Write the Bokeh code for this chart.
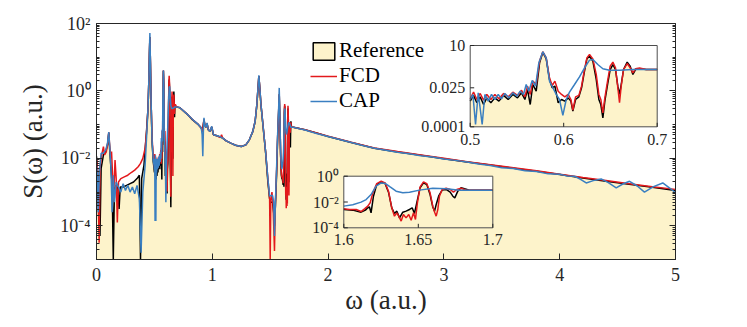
import numpy as np
from bokeh.plotting import figure
from bokeh.models import (Range1d, LogScale, LogAxis, FixedTicker, CustomJSTickFormatter,
                          Legend, LegendItem)
from bokeh.core.properties import value
from bokeh.embed import file_html
from bokeh.resources import INLINE

# ---------------- data (given as log10 S) ----------------
x_ref = [0.0, 0.01, 0.02, 0.03, 0.04, 0.06, 0.08, 0.095, 0.106, 0.115, 0.125, 0.135, 0.145, 0.155,
         0.17, 0.185, 0.195, 0.205, 0.23, 0.26, 0.29, 0.32, 0.35, 0.37, 0.38, 0.39, 0.41, 0.43,
         0.445, 0.452, 0.457, 0.461, 0.466, 0.472, 0.48, 0.49, 0.497,
         0.5, 0.5036, 0.5071, 0.5107, 0.5143, 0.5178, 0.5221, 0.5264, 0.5307, 0.5357,
         0.5406, 0.5456, 0.5506, 0.5549, 0.5585, 0.5613, 0.5642, 0.567, 0.5706, 0.5742,
         0.5777, 0.5813, 0.5848, 0.5877, 0.5906, 0.5941, 0.5977, 0.6012, 0.6048, 0.6077,
         0.6098, 0.6127, 0.6162, 0.6191, 0.6219, 0.6248, 0.6276, 0.6312, 0.6348, 0.6376,
         0.6397, 0.6419, 0.644, 0.6469, 0.6497, 0.6526, 0.6554, 0.6579, 0.6597, 0.6615,
         0.664, 0.6679, 0.6711, 0.674, 0.6768, 0.6811, 0.6882, 0.7,
         0.72, 0.78, 0.83, 0.88, 0.905, 0.915, 0.928, 0.935, 0.945, 0.955, 0.965, 0.98, 0.995,
         1.01, 1.04, 1.07, 1.09, 1.12, 1.16, 1.2, 1.25, 1.29, 1.32, 1.35, 1.37, 1.385, 1.395,
         1.402, 1.41, 1.42, 1.44, 1.46, 1.48, 1.495, 1.505, 1.52, 1.53, 1.537, 1.545, 1.555,
         1.565, 1.573, 1.578, 1.584, 1.59, 1.596,
         1.6, 1.606, 1.6116, 1.6145, 1.6161, 1.6172, 1.6183, 1.6199, 1.6221, 1.6251,
         1.6277, 1.63, 1.6322, 1.634, 1.6356, 1.6374, 1.6396, 1.6418, 1.6441, 1.6459,
         1.6474, 1.649, 1.6512, 1.6535, 1.6557, 1.6579, 1.6597, 1.6609, 1.662, 1.6638,
         1.666, 1.6687, 1.6714, 1.6732, 1.6745, 1.6765, 1.6787, 1.681, 1.6843, 1.7,
         1.8, 1.9, 2.0, 2.2, 2.4, 2.6, 2.8, 3.0, 3.2, 3.4, 3.6, 3.8, 4.0, 4.2, 4.4, 4.6, 4.8, 5.0]
ref_log10 = [-1.94, -2.4, -3.8, -4.3, -2.3, -1.9, -1.8, -1.6, -1.25, -1.8, -2.3, -2.8, -5.0, -2.9,
             -2.8, -2.9, -3.5, -2.85, -2.85, -2.8, -2.75, -2.7, -2.6, -2.5, -5.0, -2.6, -2.2, -1.3,
             -0.5, 0.3, 1.1, 1.6, 0.8, -0.4, -1.5, -2.1, -2.3,
             -2.42, -2.07, -2.52, -2.16, -2.63, -2.22, -2.52, -2.22, -2.42, -2.07,
             -2.32, -2.01, -2.22, -1.91, -2.32, -1.7, -2.63, -1.4, -1.81, -0.07,
             0.59, 0.18, -1.09, -1.6, -1.5, -2.52, -2.32, -2.42, -2.22, -2.42,
             -3.04, -2.32, -2.16, -1.6, -0.68, 0.18, 0.34, 0.04, -1.09, -2.32,
             -2.63, -3.45, -2.42, -1.4, -0.48, -0.17, -0.48, -1.5, -2.01, -1.4,
             -0.48, -0.02, -0.27, -0.78, -0.48, -0.43, -0.48, -0.48,
             -0.5, -0.68, -0.86, -1.0, -1.1, -1.2, -0.85, -1.0, -1.08, -0.97, -1.15, -1.2, -1.07,
             -1.3, -1.33, -1.37, -1.4, -1.48, -1.55, -1.61, -1.65, -1.6, -1.45, -1.2, -0.9, -0.4, 0.1,
             0.44, 0.1, -0.4, -1.1, -1.8, -2.7, -3.2, -3.3, -3.3, -3.6, -4.0, -3.4, -2.5,
             -1.3, -0.6, -0.1, -0.9, -1.9, -2.5,
             -2.58, -2.63, -2.79, -2.63, -2.45, -2.37, -2.84, -1.55, -0.65, -0.44,
             -0.57, -1.24, -2.45, -2.89, -2.71, -3.23, -2.79, -2.71, -2.58, -2.45,
             -2.89, -2.06, -0.9, -0.52, -0.65, -1.42, -2.37, -2.71, -2.19, -1.5,
             -1.08, -1.03, -1.24, -1.55, -1.68, -1.16, -0.9, -0.98, -1.08, -1.08,
             -1.15, -1.25, -1.35, -1.53, -1.7, -1.81, -1.91, -2.01, -2.11, -2.2, -2.29, -2.38,
             -2.48, -2.58, -2.68, -2.77, -2.86, -2.95]

x_fcd = [0.0, 0.008, 0.015, 0.023, 0.03, 0.045, 0.06, 0.07, 0.085, 0.095, 0.106, 0.115, 0.125,
         0.13, 0.14, 0.15, 0.16, 0.17, 0.18, 0.19, 0.21, 0.24, 0.27, 0.30, 0.33, 0.36, 0.38, 0.40,
         0.42, 0.435, 0.445, 0.452, 0.457, 0.461, 0.466, 0.472, 0.48, 0.49, 0.497,
         0.5, 0.5036, 0.5071, 0.5107, 0.5143, 0.5178, 0.5221, 0.5264, 0.5307, 0.5357,
         0.5406, 0.5456, 0.5506, 0.5549, 0.5585, 0.5613, 0.5642, 0.567, 0.5706, 0.5742,
         0.5777, 0.5813, 0.5848, 0.5877, 0.5906, 0.5941, 0.5977, 0.6012, 0.6048, 0.6077,
         0.6098, 0.6127, 0.6162, 0.6191, 0.6219, 0.6248, 0.6276, 0.6312, 0.6348, 0.6376,
         0.6397, 0.6419, 0.644, 0.6469, 0.6497, 0.6526, 0.6554, 0.6579, 0.6597, 0.6615,
         0.664, 0.6679, 0.6711, 0.674, 0.6768, 0.6811, 0.6882, 0.7,
         0.72, 0.78, 0.83, 0.88, 0.905, 0.915, 0.928, 0.935, 0.945, 0.955, 0.965, 0.98, 0.995,
         1.01, 1.04, 1.07, 1.08, 1.09, 1.12, 1.16, 1.2, 1.25, 1.29, 1.32, 1.35, 1.37, 1.385,
         1.395, 1.402, 1.41, 1.42, 1.44, 1.46, 1.48, 1.495, 1.50, 1.505, 1.515, 1.525, 1.537,
         1.545, 1.555, 1.565, 1.573, 1.578, 1.584, 1.59, 1.596,
         1.6, 1.6038, 1.6083, 1.6116, 1.6139, 1.6161, 1.6177, 1.6195, 1.6221, 1.6251,
         1.6277, 1.63, 1.6322, 1.634, 1.6356, 1.6369, 1.6385, 1.64, 1.6418, 1.6436,
         1.6452, 1.6468, 1.6481, 1.6494, 1.6512, 1.6535, 1.6557, 1.6579, 1.6597, 1.6611,
         1.662, 1.6631, 1.6642, 1.666, 1.6687, 1.6714, 1.6736, 1.6758, 1.6787, 1.6821,
         1.691, 1.7,
         1.8, 1.9, 2.0, 2.2, 2.4, 2.6, 2.8, 3.0, 3.2, 3.4, 3.6, 3.8, 4.0, 4.2, 4.4, 4.6, 4.8, 5.0]
fcd_log10 = [-2.0, -2.3, -3.2, -4.5, -2.3, -1.9, -1.65, -1.9, -1.8, -1.6, -1.22, -1.7, -2.0,
             -1.8, -2.6, -3.0, -2.05, -2.6, -3.9, -2.7, -2.6, -2.55, -2.5, -2.42, -2.35, -2.25,
             -2.15, -2.0, -1.7, -1.1, -0.5, 0.3, 1.1, 1.6, 0.8, -0.4, -1.4, -1.95, -2.1,
             -2.28, -1.87, -2.32, -1.95, -2.36, -2.01, -2.32, -2.01, -2.28, -1.95,
             -2.16, -1.87, -2.07, -1.75, -2.16, -1.5, -2.01, -1.19, -1.4, 0.04,
             0.61, 0.24, -0.99, -1.46, -1.19, -1.81, -2.01, -2.16, -2.01, -2.32,
             -2.98, -2.16, -2.07, -1.5, -0.58, 0.24, 0.45, 0.18, -0.78, -2.01,
             -2.32, -3.14, -2.22, -1.19, -0.27, -0.02, -0.37, -1.6, -2.52, -1.5,
             -0.48, -0.11, -0.37, -0.68, -0.43, -0.39, -0.48, -0.48,
             -0.5, -0.68, -0.85, -1.0, -1.1, -1.2, -0.85, -1.0, -1.08, -0.97, -1.15, -1.2, -1.07,
             -1.3, -1.33, -1.38, -1.3, -1.4, -1.48, -1.55, -1.61, -1.65, -1.6, -1.45, -1.2, -0.9,
             -0.4, 0.1, 0.44, 0.1, -0.4, -1.1, -1.8, -2.6, -3.2, -5.0, -3.3, -3.0, -3.4, -4.75,
             -3.3, -2.4, -1.3, -0.6, -0.1, -0.9, -1.9, -2.4,
             -2.53, -2.58, -2.58, -2.74, -2.53, -2.32, -2.06, -1.29, -0.57, -0.39,
             -0.52, -1.16, -2.45, -3.10, -2.84, -3.10, -3.48, -2.97, -3.23, -2.97,
             -3.41, -2.84, -3.35, -2.06, -0.83, -0.44, -0.57, -1.29, -2.32, -2.84,
             -3.10, -2.58, -1.55, -1.03, -0.93, -1.03, -1.24, -1.03, -0.93, -1.08,
             -1.08, -1.08,
             -1.15, -1.25, -1.34, -1.52, -1.69, -1.8, -1.9, -2.0, -2.1, -2.19, -2.28, -2.37,
             -2.47, -2.57, -2.66, -2.75, -2.84, -2.92]

x_cap = [0.0, 0.008, 0.015, 0.025, 0.04, 0.06, 0.08, 0.095, 0.106, 0.115, 0.125, 0.135, 0.145,
         0.155, 0.17, 0.19, 0.21, 0.23, 0.25, 0.27, 0.29, 0.31, 0.33, 0.35, 0.37, 0.385, 0.40,
         0.42, 0.435, 0.445, 0.452, 0.457, 0.461, 0.466, 0.472, 0.48, 0.49, 0.497,
         0.5, 0.5029, 0.5057, 0.5086, 0.5128, 0.5157, 0.5193, 0.5228, 0.5264, 0.53,
         0.5335, 0.5371, 0.5414, 0.5456, 0.5499, 0.5535, 0.557, 0.5599, 0.5627, 0.5663,
         0.5699, 0.5734, 0.5777, 0.5813, 0.5848, 0.5884, 0.592, 0.5955, 0.5991, 0.6027,
         0.6062, 0.6116, 0.6169, 0.6223, 0.6276, 0.6312, 0.6365, 0.6419, 0.649, 0.6597,
         0.674, 0.7,
         0.72, 0.78, 0.83, 0.88, 0.905, 0.912, 0.918, 0.923, 0.928, 0.935, 0.945, 0.955, 0.965,
         0.98, 0.995, 1.01, 1.04, 1.07, 1.09, 1.12, 1.16, 1.2, 1.25, 1.29, 1.32, 1.35, 1.37,
         1.385, 1.395, 1.402, 1.41, 1.42, 1.44, 1.46, 1.48, 1.495, 1.51, 1.52, 1.53, 1.537,
         1.545, 1.555, 1.565, 1.573, 1.578, 1.584, 1.59, 1.596,
         1.6, 1.606, 1.6116, 1.615, 1.6183, 1.6217, 1.6251, 1.628, 1.6311, 1.6351,
         1.6396, 1.6441, 1.6508, 1.6597, 1.6687, 1.6776, 1.6888, 1.7,
         1.8, 1.9, 2.0, 2.1, 2.2, 2.3, 2.4, 2.5, 2.6, 2.7, 2.8, 2.9, 3.0, 3.1, 3.2, 3.3, 3.4,
         3.5, 3.6, 3.7, 3.8, 3.9, 4.0, 4.06, 4.128, 4.18, 4.229, 4.29, 4.358, 4.42, 4.488,
         4.545, 4.603, 4.67, 4.732, 4.81, 4.89, 4.95, 5.0]
cap_log10 = [-2.2, -2.5, -3.6, -2.4, -1.85, -1.85, -1.75, -1.55, -1.22, -1.7, -2.3, -3.6, -2.5,
             -3.3, -2.7, -2.85, -3.0, -2.75, -2.95, -2.8, -3.0, -2.85, -3.05, -2.8, -3.2, -4.8,
             -3.0, -2.2, -1.2, -0.5, 0.3, 1.2, 1.72, 0.8, -0.4, -1.5, -2.05, -2.2,
             -2.32, -2.01, -3.86, -1.91, -3.86, -2.01, -2.42, -2.01, -2.32, -2.01,
             -2.28, -1.95, -2.22, -1.91, -2.11, -1.81, -2.01, -1.4, -1.81, -1.15,
             -1.5, -0.07, 0.61, 0.24, -1.19, -1.6, -2.01, -2.32, -3.3, -2.32,
             -1.87, -1.4, -0.93, -0.37, 0.1, 0.14, -0.17, -0.43, -0.52, -0.52,
             -0.48, -0.48,
             -0.5, -0.68, -0.85, -1.0, -1.1, -1.3, -1.94, -1.2, -0.8, -1.0, -1.08, -0.95, -1.15,
             -1.2, -1.05, -1.3, -1.33, -1.36, -1.4, -1.48, -1.55, -1.61, -1.65, -1.6, -1.45,
             -1.2, -0.9, -0.4, 0.1, 0.46, 0.1, -0.4, -1.1, -1.8, -2.6, -3.12, -3.1, -3.1, -3.3,
             -4.3, -3.3, -2.3, -1.2, -0.5, 0.09, -0.8, -1.8, -2.2,
             -2.32, -2.22, -2.01, -1.81, -1.42, -0.77, -0.52, -0.57, -0.83, -1.16,
             -1.29, -1.24, -1.08, -0.93, -0.98, -1.08, -1.08, -1.08,
             -1.16, -1.26, -1.35, -1.44, -1.53, -1.62, -1.7, -1.76, -1.82, -1.86, -1.92, -1.96,
             -2.02, -2.06, -2.11, -2.17, -2.21, -2.28, -2.3, -2.37, -2.39, -2.46, -2.47, -2.52,
             -2.53, -2.62, -2.73, -2.66, -2.61, -2.72, -2.875, -2.76, -2.68, -2.82, -3.0, -2.84,
             -2.73, -2.88, -3.02]

x_ticks = [0, 1, 2, 3, 4, 5]
y_ticks = [1e-4, 1e-2, 1e0, 1e2]
inset1_xlim, inset1_ylim = (0.5, 0.7), (1e-4, 10.0)
inset1_xticks, inset1_xlabels = [0.5, 0.6, 0.7], ["0.5", "0.6", "0.7"]
inset1_yticks, inset1_ylabels = [1e-4, 0.025, 10.0], ["0.0001", "0.025", "10"]
inset2_xlim, inset2_ylim = (1.6, 1.7), (1e-4, 1.0)
inset2_xticks, inset2_xlabels = [1.6, 1.65, 1.7], ["1.6", "1.65", "1.7"]
inset2_yticks, inset2_ylabels = [1e-4, 1e-2, 1.0], ["10\u207b\u2074", "10\u207b\u00b2", "10\u2070"]

xr_ = np.array(x_ref); sr_ = 10.0 ** np.array(ref_log10)
xf_ = np.array(x_fcd); sf_ = 10.0 ** np.array(fcd_log10)
xc_ = np.array(x_cap); sc_ = 10.0 ** np.array(cap_log10)

# ---------------- style ----------------
FONT = "Liberation Serif"
TXT = "#262626"
YELLOW = "#fdf3cb"
RED = "#e3191c"
BLUE = "#3a7fc1"
LW = 1.5

W, H = 737, 321
FL, FR, FT, FB = 96, 62, 23, 62
FW, FH = W - FL - FR, H - FT - FB

p = figure(width=W, height=H, x_range=Range1d(0, 5), y_range=Range1d(1e-5, 1e2),
           y_axis_type="log", output_backend="svg", toolbar_location=None,
           min_border_left=FL, min_border_right=FR, min_border_top=FT, min_border_bottom=FB)
p.xgrid.grid_line_color = None
p.ygrid.grid_line_color = None
p.outline_line_color = TXT
p.outline_line_width = 1
p.background_fill_color = "white"
p.border_fill_color = "white"

minor = sorted([k * 10.0 ** e for e in range(-5, 2) for k in range(2, 10)] + [1e-5, 1e-3, 1e-1, 1e1])
sup_js = """
const e = Math.round(Math.log10(tick));
const m = {"-":"\u207b","0":"\u2070","1":"\u00b9","2":"\u00b2","3":"\u00b3","4":"\u2074","5":"\u2075","6":"\u2076","7":"\u2077","8":"\u2078","9":"\u2079"};
return "10" + String(e).split("").map(c => m[c]).join("");
"""
yax = p.yaxis[0]
yax.ticker = FixedTicker(ticks=y_ticks, minor_ticks=minor)
yax.formatter = CustomJSTickFormatter(code=sup_js)
yax.axis_label = "S(\u03c9) (a.u.)"
for ax in (yax, p.xaxis[0]):
    ax.axis_label_text_font = FONT
    ax.axis_label_text_font_size = "27px"
    ax.axis_label_text_font_style = "normal"
    ax.axis_label_text_color = TXT
    ax.major_label_text_font = FONT
    ax.major_label_text_font_size = "18px"
    ax.major_label_text_color = TXT
    ax.axis_line_color = TXT
    ax.major_tick_line_color = TXT
    ax.minor_tick_line_color = TXT
    ax.major_tick_in = 6
    ax.major_tick_out = 0
    ax.minor_tick_in = 3
    ax.minor_tick_out = 0
yax.major_label_standoff = 6
yax.axis_label_standoff = 9
xax = p.xaxis[0]
xax.ticker = FixedTicker(ticks=x_ticks)
xax.minor_tick_line_color = None
xax.axis_label = "\u03c9 (a.u.)"
xax.major_label_standoff = 8
xax.axis_label_standoff = 1

rax = LogAxis(ticker=FixedTicker(ticks=y_ticks, minor_ticks=minor),
              formatter=CustomJSTickFormatter(code="return '';"),
              major_label_standoff=0,
              major_tick_in=6, major_tick_out=0, minor_tick_in=3, minor_tick_out=0,
              axis_line_color=TXT, major_tick_line_color=TXT, minor_tick_line_color=TXT)
p.add_layout(rax, "right")

# ---------------- main curves ----------------
p.varea(x=xr_, y1=1e-12, y2=sr_, fill_color=YELLOW)
p.line(xr_, sr_, line_color="black", line_width=LW)
red_r = p.line(xf_, sf_, line_color=RED, line_width=LW)
blue_r = p.line(xc_, sc_, line_color=BLUE, line_width=LW)
# legend swatch only (no drawable data)
leg_box = p.quad(left=[np.nan], right=[np.nan], top=[np.nan], bottom=[np.nan],
                 fill_color=YELLOW, line_color="black", line_width=1.5)

# ---------------- insets (drawn in extra ranges mapped to a sub-box of the frame) ----------------
ex_x, ex_y, ex_ys = {}, {}, {}


def inset(name, box, xlim, ylim, xticks, xlabels, yticks, ylabels, xoff):
    l, t, r, b = box
    sx = (xlim[1] - xlim[0]) / (r - l)
    ly0, ly1 = np.log10(ylim[0]), np.log10(ylim[1])
    sy = (ly1 - ly0) / (b - t)
    ex_x[name] = Range1d(xlim[0] - l * sx, xlim[1] + (FW - r) * sx)
    ex_y[name] = Range1d(10 ** (ly0 - (FH - b) * sy), 10 ** (ly1 + t * sy))
    ex_ys[name] = LogScale()
    kw = dict(x_range_name=name, y_range_name=name)
    p.quad(left=[xlim[0]], right=[xlim[1]], bottom=[ylim[0]], top=[ylim[1]],
           fill_color="white", line_color=None, **kw)
    m = (xr_ >= xlim[0]) & (xr_ <= xlim[1])
    p.varea(x=xr_[m], y1=ylim[0], y2=sr_[m], fill_color=YELLOW, **kw)
    p.line(xr_[m], sr_[m], line_color="black", line_width=LW, **kw)
    m = (xf_ >= xlim[0]) & (xf_ <= xlim[1])
    p.line(xf_[m], sf_[m], line_color=RED, line_width=LW, **kw)
    m = (xc_ >= xlim[0]) & (xc_ <= xlim[1])
    p.line(xc_[m], sc_[m], line_color=BLUE, line_width=LW, **kw)
    p.quad(left=[xlim[0]], right=[xlim[1]], bottom=[ylim[0]], top=[ylim[1]],
           fill_color=None, line_color="#4d4d4d", line_width=1, **kw)
    tl = 4
    p.segment(x0=xticks, x1=xticks, y0=[ylim[0]] * len(xticks),
              y1=[ylim[0] * 10 ** (tl * sy)] * len(xticks), line_color=TXT, **kw)
    p.segment(x0=[xlim[0]] * len(yticks), x1=[xlim[0] + tl * sx] * len(yticks),
              y0=yticks, y1=yticks, line_color=TXT, **kw)
    p.text(x=xticks, y=[ylim[0]] * len(xticks), text=xlabels, text_align="center",
           text_baseline="top", y_offset=xoff, text_font=value(FONT), text_font_size="16px",
           text_color=TXT, **kw)
    p.text(x=[xlim[0]] * len(yticks), y=yticks, text=ylabels, text_align="right",
           text_baseline="middle", x_offset=-5, text_font=value(FONT), text_font_size="16px",
           text_color=TXT, **kw)


inset("i1", (373.7, 22.0, 560.7, 103.3), inset1_xlim, inset1_ylim,
      inset1_xticks, inset1_xlabels, inset1_yticks, inset1_ylabels, 7)
inset("i2", (247.3, 152.7, 396.3, 204.3), inset2_xlim, inset2_ylim,
      inset2_xticks, inset2_xlabels, inset2_yticks, inset2_ylabels, 6)
p.extra_x_ranges = ex_x
p.extra_y_ranges = ex_y
p.extra_y_scales = ex_ys

legend = Legend(items=[LegendItem(label="Reference", renderers=[leg_box]),
                       LegendItem(label="FCD", renderers=[red_r]),
                       LegendItem(label="CAP", renderers=[blue_r])],
                location=(214, 146), padding=0, margin=0, spacing=0,
                glyph_width=27, glyph_height=22, label_height=22, label_standoff=2,
                label_text_font=FONT, label_text_font_size="21px", label_text_color="black",
                background_fill_alpha=0, border_line_color=None)
p.add_layout(legend)

open("out.html", "w").write(file_html(p, INLINE))
